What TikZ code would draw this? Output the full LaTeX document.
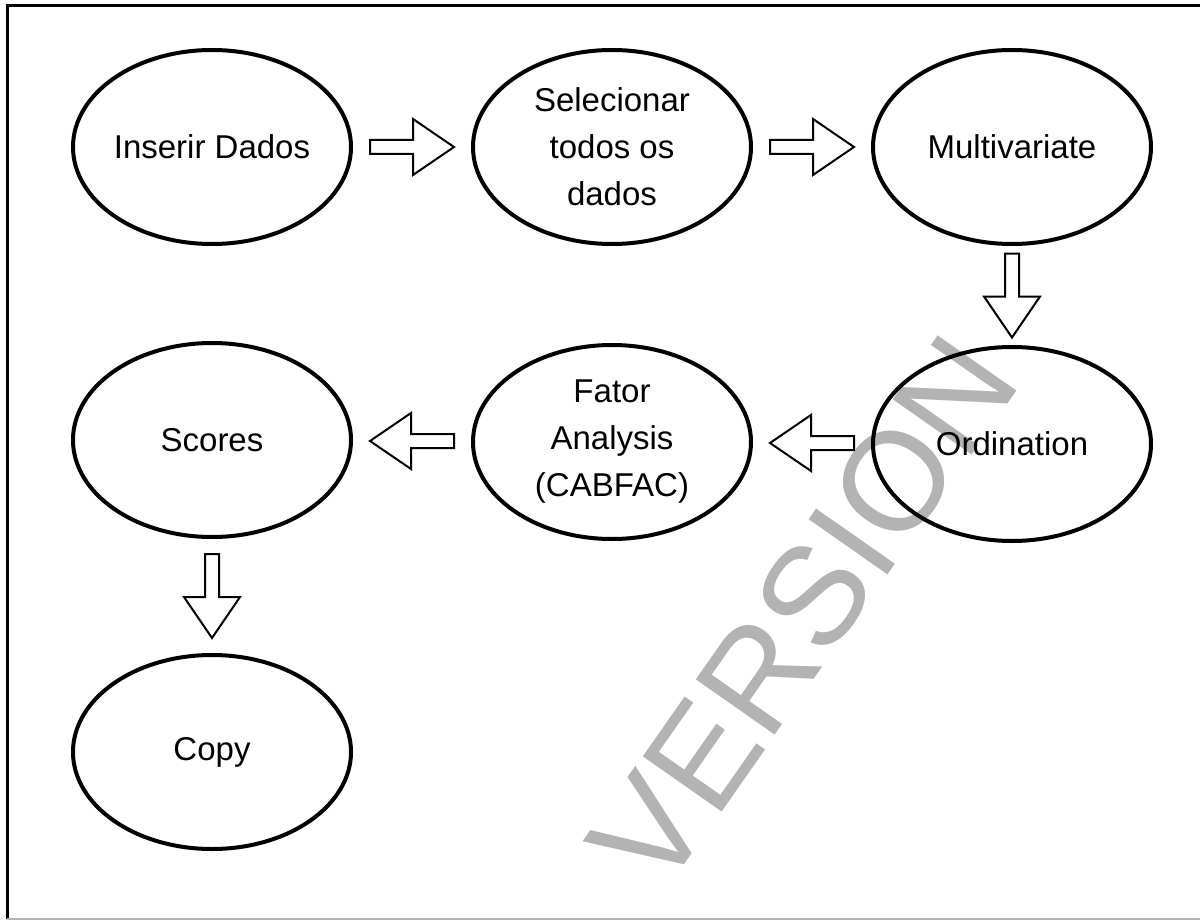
\documentclass[tikz,border=0pt]{standalone}
\usepackage{fontspec}
\setmainfont{Liberation Sans}
\usetikzlibrary{shapes.geometric,calc}
\definecolor{wmgray}{HTML}{B3B3B3}
\tikzset{
  flow/.style={ellipse, draw, line width=2pt, minimum width=139pt, minimum height=97pt,
    inner sep=0pt, align=center, font=\fontsize{16.5}{23.5}\selectfont},
  pics/barrow/.style={code={
    \draw[line width=1pt, fill=white, line join=miter]
      (-42,-7) -- (1,-7) -- (1,-28) -- (42,0) -- (1,28) -- (1,7) -- (-42,7) -- cycle;}},
  framel/.style={line width=1.5pt, black}
}
\begin{document}
\begin{tikzpicture}[x=0.5pt, y=-0.5pt]
\useasboundingbox (0,0) rectangle (1200,920);
% watermark
\node[rotate=55, text=wmgray, font=\fontsize{70}{70}\selectfont, inner sep=0pt] (wm) at (803,612) {VERSION};
% frame
\coordinate (ftl) at (7,6);
\coordinate (fbl) at (7,919);
\coordinate (ftr) at (1200,6);
\coordinate (fbr) at (1200,919);
\draw[framel] (fbl) -- (ftl) -- (ftr);
\draw[line width=1pt, wmgray] (fbl) -- (fbr);
% nodes
\node[flow] (a) at (212,147) {Inserir Dados};
\node[flow] (b) at (612,147) {Selecionar\\todos os\\dados};
\node[flow] (c) at (1012,147) {Multivariate};
\node[flow] (d) at (1012,444) {Ordination};
\node[flow] (e) at (612,442) {Fator\\Analysis\\(CABFAC)};
\node[flow] (f) at (212,440) {Scores};
\node[flow] (g) at (212,752) {Copy};
% arrows
\pic at ($(a.east)!0.5!(b.west)$) {barrow};
\pic at ($(b.east)!0.5!(c.west)$) {barrow};
\pic[rotate=-90] at ($(c.south)!0.5!(d.north)$) {barrow};
\pic[rotate=180] at ($(d.west)!0.5!(e.east)$) {barrow};
\pic[rotate=180] at ($(e.west)!0.5!(f.east)$) {barrow};
\pic[rotate=-90] at ($(f.south)!0.5!(g.north)$) {barrow};
\end{tikzpicture}
\end{document}
